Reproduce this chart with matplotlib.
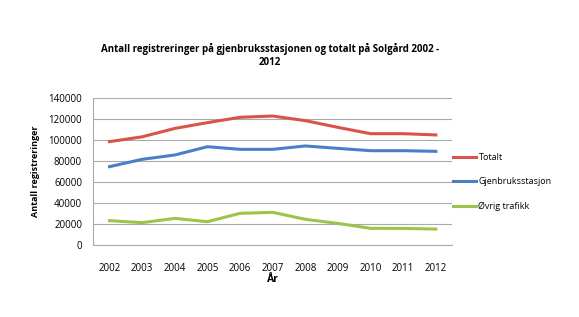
import matplotlib.pyplot as plt

years = ["2002", "2003", "2004", "2005", "2006", "2007", "2008", "2009", "2010", "2011", "2012"]
totalt = [98400, 103000, 111000, 116500, 121600, 122800, 118400, 112000, 106000, 106000, 104800]
gjenbruk = [74600, 81600, 85700, 93600, 91100, 91100, 94300, 92000, 89800, 89800, 89200]
ovrig = [23200, 21300, 25400, 22200, 30200, 31100, 24500, 20600, 15900, 15800, 15200]

plt.rcParams['font.family'] = ['Open Sans', 'DejaVu Sans']

fig = plt.figure(figsize=(5.79, 3.17), dpi=100)
ax = fig.add_axes([0.161, 0.227, 0.62, 0.464])

x = range(len(years))
ax.plot(x, totalt, color='#d9534a', lw=2.2, label='Totalt')
ax.plot(x, gjenbruk, color='#4a7fc8', lw=2.2, label='Gjenbruksstasjon')
ax.plot(x, ovrig, color='#9bc54a', lw=2.2, label='Øvrig trafikk')

ax.set_xlim(-0.5, len(years) - 0.5)
ax.set_ylim(0, 140000)
ax.set_yticks(range(0, 140001, 20000))
ax.set_xticks(list(x))
ax.set_xticklabels(years)
ax.tick_params(labelsize=7, length=0)
ax.tick_params(axis='x', pad=13)
ax.tick_params(axis='y', pad=8)
ax.grid(axis='y', color='#aaaaaa', lw=0.8)
ax.set_axisbelow(True)
for s in ['top', 'right']:
    ax.spines[s].set_visible(False)
ax.spines['left'].set_color('#aaaaaa')
ax.spines['bottom'].set_color('#aaaaaa')

ax.set_ylabel('Antall registreringer', fontsize=6.5, fontweight='bold', labelpad=6)
ax.set_xlabel('År', fontsize=7.5, fontweight='bold', labelpad=0)
fig.text(0.466, 0.825, 'Antall registreringer på gjenbruksstasjonen og totalt på Solgård 2002 -\n2012',
         ha='center', va='center', fontsize=7, fontweight='bold', linespacing=1.3)

ax.legend(loc='upper left', bbox_to_anchor=(0.98, 0.68), frameon=False, fontsize=6.5,
          labelspacing=1.7, handlelength=2.5, handletextpad=0.3)

fig.savefig('out.png', dpi=100)
